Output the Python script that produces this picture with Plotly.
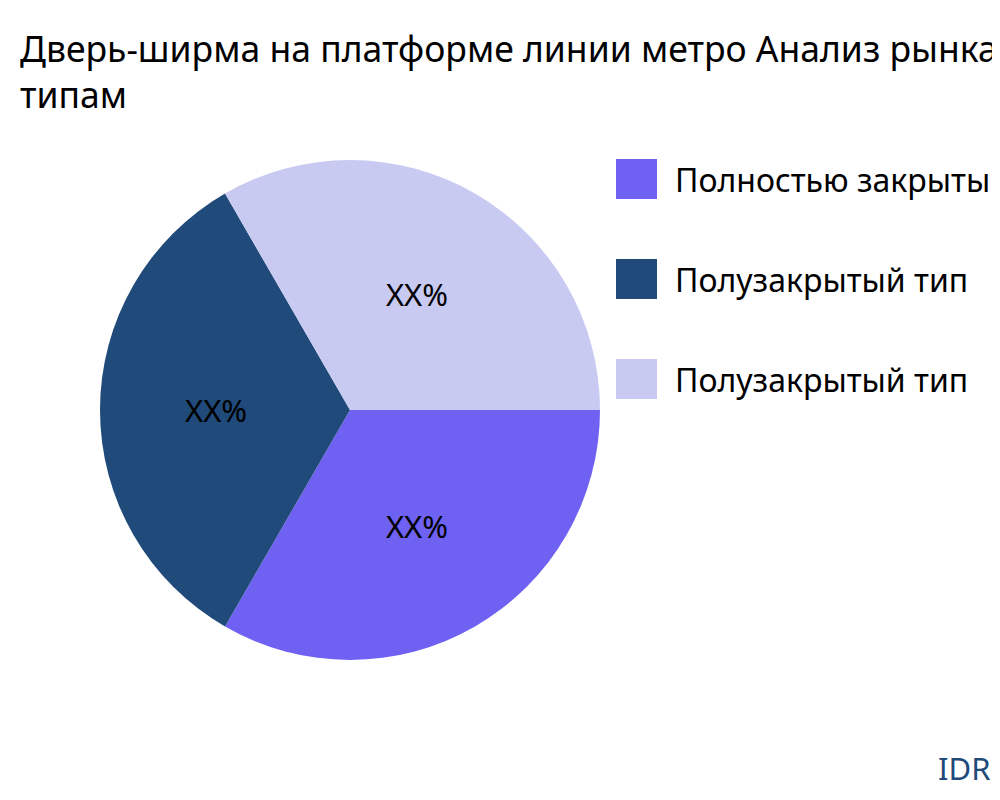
import plotly.graph_objects as go

labels = ["Полностью закрытый тип", "Полузакрытый тип", "Полузакрытый тип"]
values = [1, 1, 1]
colors = ["#6f61f2", "#1f4a7a", "#c8caf2"]
texts = ["XX%", "XX%", "XX%"]

fig = go.Figure(go.Pie(
    labels=[l + " " * i for i, l in enumerate(labels)],
    values=values, text=texts, textinfo="text", sort=False,
    direction="clockwise", rotation=90,
    marker=dict(colors=colors), textfont=dict(size=31, color="black"),
    showlegend=False, domain=dict(x=[0.092, 0.592], y=[0.185, 0.81])))

shapes, anns = [], []
for i, (l, c) in enumerate(zip(labels, colors)):
    yc = 171 + 100 * i
    shapes.append(dict(type="rect", xref="paper", yref="paper",
                       x0=0.608, x1=0.649, y0=1 - (yc + 20) / 800, y1=1 - (yc - 20) / 800,
                       fillcolor=c, line=dict(width=0)))
    anns.append(dict(text=l, xref="paper", yref="paper", x=0.665, y=1 - yc / 800,
                     xanchor="left", yanchor="middle", showarrow=False,
                     font=dict(size=32, color="black")))
anns.append(dict(text="IDR", xref="paper", yref="paper", x=0.984, y=1 - 760 / 800,
                 xanchor="right", yanchor="middle", showarrow=False,
                 font=dict(size=31, color="#1f4a7a")))

fig.update_layout(
    width=1000, height=800, margin=dict(l=0, r=0, t=0, b=0),
    paper_bgcolor="white", font=dict(family="Noto Sans"),
    title=dict(text="Дверь-ширма на платформе линии метро Анализ рынка по<br>типам",
               x=0.012, xanchor="left", y=1 - 54 / 800, yanchor="middle",
               font=dict(size=35.5, color="black")),
    shapes=shapes, annotations=anns)
fig.write_html("out.html")
